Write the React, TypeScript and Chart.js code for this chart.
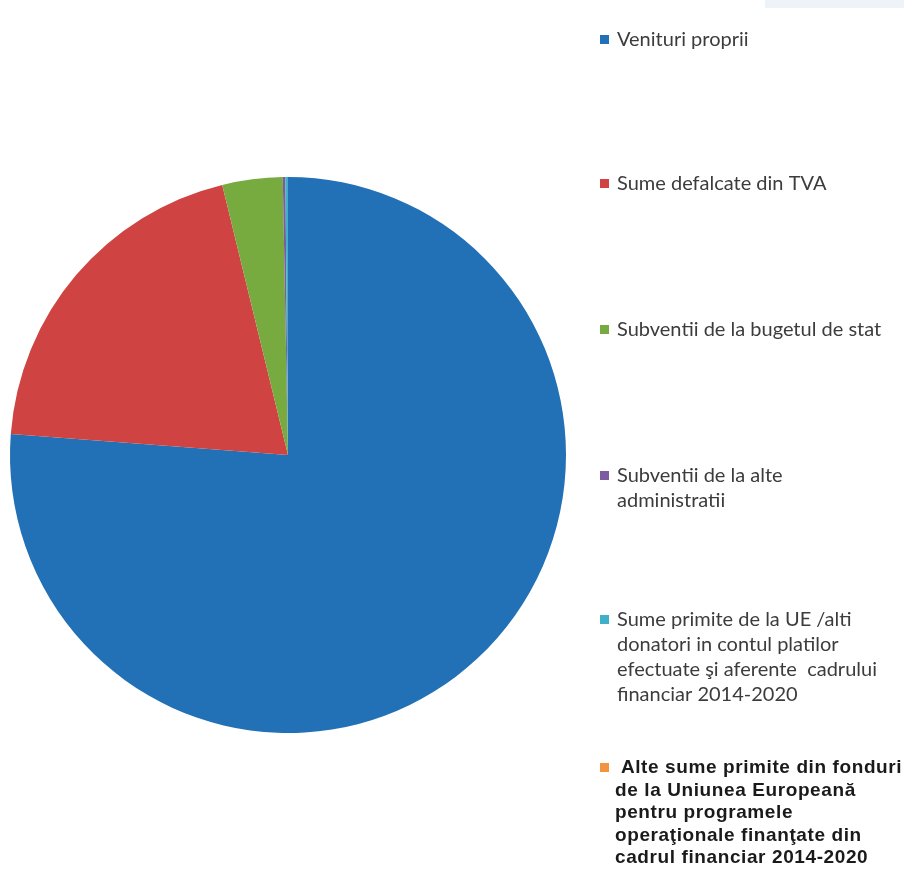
import React, { useEffect, useRef } from "react";
import { Chart, registerables } from "chart.js";

Chart.register(...registerables);

const categories: string[][] = [
  ["Venituri proprii"],
  ["Sume defalcate din TVA"],
  ["Subventii de la bugetul de stat"],
  ["Subventii de la alte", "administratii"],
  ["Sume primite de la UE /alti", "donatori in contul platilor", "efectuate şi aferente  cadrului", "financiar 2014-2020"],
  [" Alte sume primite din fonduri", "de la Uniunea Europeană", "pentru programele", "operaţionale finanţate din", "cadrul financiar 2014-2020"],
];
const values: number[] = [76.2, 20.0, 3.5, 0.15, 0.15, 0.0];
const colors: string[] = ["#2270b5", "#cf4442", "#78ab3f", "#7e5aa0", "#3fb0c8", "#f39440"];

const legendTops = [40, 184, 330, 476, 620, 768];

const legendPlugin = {
  id: "sideLegend",
  afterDraw(chart: any) {
    const ctx = chart.ctx as CanvasRenderingContext2D;
    ctx.save();
    ctx.fillStyle = "#eef3f9";
    ctx.fillRect(765, 0, 139, 8);
    ctx.textBaseline = "middle";
    categories.forEach((lines, i) => {
      const y0 = legendTops[i];
      const last = i === 5;
      ctx.fillStyle = colors[i];
      ctx.fillRect(600, y0 - 5, 9, 9);
      ctx.fillStyle = last ? "#1a1a1a" : "#3c3c3c";
      ctx.font = last ? "bold 19px 'Liberation Sans', Arial, sans-serif" : "20px Lato, sans-serif";
      (ctx as any).letterSpacing = last ? "0.6px" : "0px";
      const lh = last ? 22.5 : 25;
      lines.forEach((t, j) => {
        ctx.fillText(t, last ? 615 : 617, y0 + j * lh);
      });
    });
    ctx.restore();
  },
};

export default function App() {
  const ref = useRef<HTMLCanvasElement | null>(null);
  useEffect(() => {
    document.body.style.margin = "0";
    const chart = new Chart(ref.current!, {
      type: "pie",
      data: {
        labels: categories.map((c) => c.join(" ")),
        datasets: [
          {
            data: values,
            backgroundColor: colors,
            borderWidth: 0,
          },
        ],
      },
      options: {
        animation: false,
        responsive: false,
        layout: { padding: { left: 10, right: 338, top: 177, bottom: 140 } },
        plugins: { legend: { display: false }, tooltip: { enabled: false } },
      },
      plugins: [legendPlugin],
    });
    return () => chart.destroy();
  }, []);
  return (
    <div style={{ width: 904, height: 873, background: "#fff" }}>
      <canvas ref={ref} width={904} height={873} style={{ display: "block" }} />
    </div>
  );
}
